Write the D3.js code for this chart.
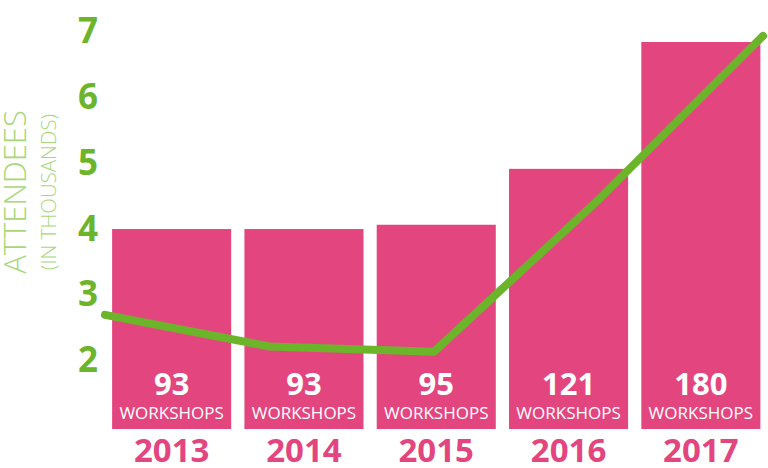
<!DOCTYPE html>
<html>
<head>
<meta charset="utf-8">
<script src="https://cdn.jsdelivr.net/npm/d3@7"></script>
<style>
  html, body { margin: 0; padding: 0; background: #ffffff; }
  svg { display: block; }
</style>
</head>
<body>
<svg id="chart" width="768" height="468"></svg>
<script>
const years = ["2013", "2014", "2015", "2016", "2017"];
const workshops = [93, 93, 95, 121, 180];
const attendees = [2.67, 2.19, 2.11, 4.42, 6.91];
const yTicks = [2, 3, 4, 5, 6, 7];
const workshopLabel = "WORKSHOPS";
const axisTitle = "ATTENDEES";
const axisSubtitle = "(IN THOUSANDS)";

const pink = "#e3467f";
const green = "#6cb52a";
const lightGreen = "#a8d77b";

const svg = d3.select("#chart");

const x = d3.scaleBand().domain(years).range([105.5, 767]).paddingInner(0.1).paddingOuter(0.05);
const xLine = d3.scalePoint().domain(years).range([105, 763]);
const yBar = d3.scaleLinear().domain([0, 180]).range([429, 42]);
const yLine = d3.scaleLinear().domain([2, 7]).range([359, 30]);

const data = years.map((yr, i) => ({ year: yr, w: workshops[i], a: attendees[i] }));

// bars
svg.append("g").selectAll("rect").data(data).join("rect")
  .attr("x", d => x(d.year))
  .attr("y", d => yBar(d.w))
  .attr("width", x.bandwidth())
  .attr("height", d => yBar(0) - yBar(d.w))
  .attr("fill", pink);

// workshop numbers
svg.append("g").selectAll("text").data(data).join("text")
  .attr("x", d => x(d.year) + x.bandwidth() / 2)
  .attr("y", 395)
  .attr("text-anchor", "middle")
  .attr("font-family", "'Open Sans', sans-serif")
  .attr("font-weight", 700)
  .attr("font-size", 31)
  .attr("fill", "#ffffff")
  .text(d => d.w);

svg.append("g").selectAll("text").data(data).join("text")
  .attr("x", d => x(d.year) + x.bandwidth() / 2)
  .attr("y", 419)
  .attr("text-anchor", "middle")
  .attr("font-family", "'Open Sans', sans-serif")
  .attr("font-weight", 400)
  .attr("font-size", 17)
  .attr("fill", "#ffffff")
  .text(workshopLabel);

// year labels
svg.append("g").selectAll("text").data(data).join("text")
  .attr("x", d => x(d.year) + x.bandwidth() / 2)
  .attr("y", 462)
  .attr("text-anchor", "middle")
  .attr("font-family", "'Open Sans', sans-serif")
  .attr("font-weight", 700)
  .attr("font-size", 33)
  .attr("fill", pink)
  .text(d => d.year);

// y axis tick labels
const yAxis = d3.axisLeft(yLine).tickValues(yTicks).tickSize(0).tickPadding(0).tickFormat(d3.format("d"));
const gAxis = svg.append("g").attr("transform", "translate(88,0)").call(yAxis);
gAxis.select(".domain").remove();
gAxis.selectAll("text")
  .attr("text-anchor", "middle")
  .attr("x", 0)
  .attr("dy", "0.36em")
  .attr("font-family", "'Open Sans', sans-serif")
  .attr("font-weight", 700)
  .attr("font-size", 35)
  .attr("fill", green);

// axis titles
svg.append("text")
  .attr("transform", "translate(26,192) rotate(-90)")
  .attr("text-anchor", "middle")
  .attr("font-family", "'Open Sans', sans-serif")
  .attr("font-weight", 300)
  .attr("font-size", 31)
  .attr("fill", lightGreen)
  .text(axisTitle);

svg.append("text")
  .attr("transform", "translate(56,192) rotate(-90)")
  .attr("text-anchor", "middle")
  .attr("font-family", "'Open Sans', sans-serif")
  .attr("font-weight", 300)
  .attr("font-size", 20.5)
  .attr("fill", lightGreen)
  .text(axisSubtitle);

// line
const line = d3.line().x(d => xLine(d.year)).y(d => yLine(d.a));
svg.append("path")
  .datum(data)
  .attr("d", line)
  .attr("fill", "none")
  .attr("stroke", green)
  .attr("stroke-width", 8)
  .attr("stroke-linecap", "round")
  .attr("stroke-linejoin", "round");
</script>
</body>
</html>
